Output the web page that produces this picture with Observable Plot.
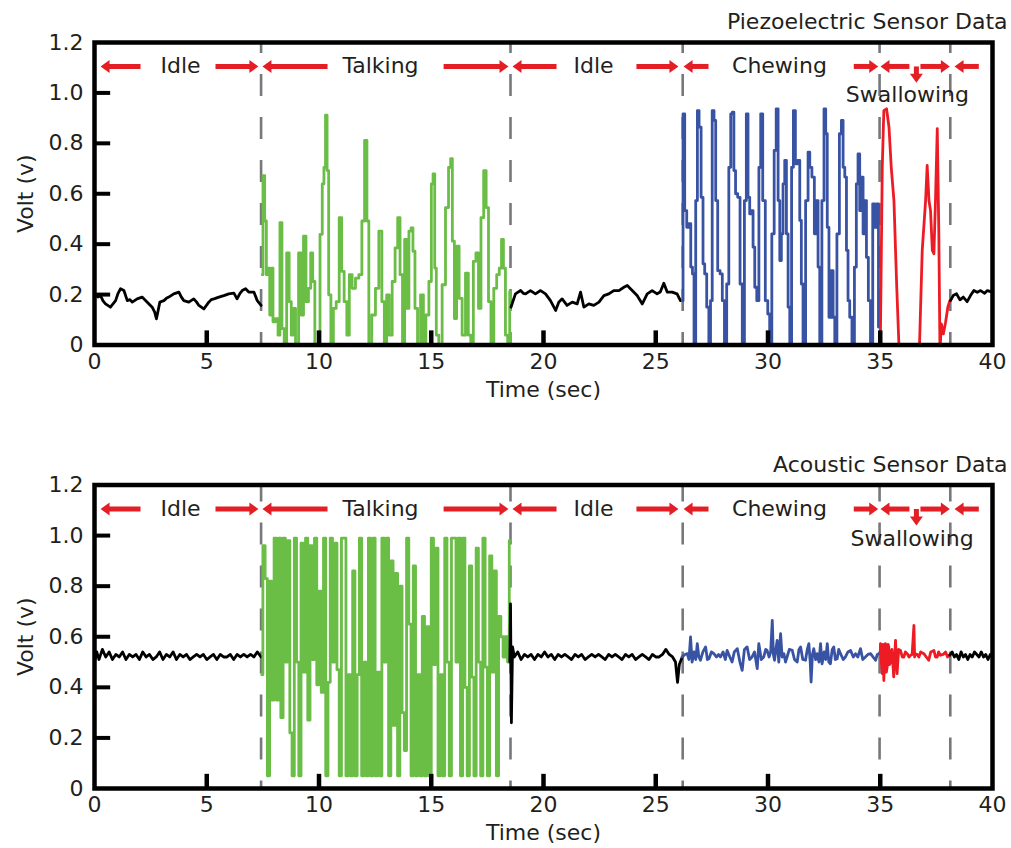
<!DOCTYPE html>
<html>
<head>
<meta charset="utf-8">
<script src="https://cdn.jsdelivr.net/npm/d3@7"></script>
<script src="https://cdn.jsdelivr.net/npm/@observablehq/plot@0.6"></script>
<style>
html, body { margin: 0; padding: 0; background: #ffffff; }
svg { display: block; }
</style>
</head>
<body>
<div id="chart"></div>
<script>
// ---------- axis ticks ----------
const xTicks = [0, 5, 10, 15, 20, 25, 30, 35, 40];
const yTicks = [0, 0.2, 0.4, 0.6, 0.8, 1.0, 1.2];
const xInnerTicks = [5, 10, 15, 20, 25, 30, 35];
const yInnerTicks = [0.2, 0.4, 0.6, 0.8, 1.0];

// ---------- phases ----------
const phaseBounds = [7.42, 18.53, 26.2, 34.97, 38.12];
const phaseLabels = ["Idle", "Talking", "Idle", "Chewing"];
const phaseLabelTimes = [3.83, 12.74, 22.23, 30.51];
const arrowLevel = 1.105;
// [tip, tail] for arrows pointing left
const leftArrows = [[0.27, 2.05], [7.48, 10.38], [18.62, 20.58], [26.24, 27.35], [35.01, 36.3], [38.31, 39.39]];
// [tail, tip] for arrows pointing right
const rightArrows = [[5.39, 7.3], [15.55, 18.44], [24.14, 26.01], [33.82, 34.91], [36.79, 38.1]];
// down arrow: [time, from, to]
const downArrow = [36.61, 1.105, 1.04];

// ---------- Piezoelectric sensor (time s, volt) ----------
const piezoIdle1 = [[0,0.203],[0.15,0.19],[0.27,0.196],[0.38,0.175],[0.49,0.163],[0.71,0.150],[0.94,0.176],[1.05,0.205],[1.16,0.223],[1.31,0.216],[1.46,0.176],[1.58,0.18],[1.68,0.170],[1.90,0.183],[2.12,0.190],[2.35,0.170],[2.57,0.150],[2.68,0.13],[2.76,0.104],[2.91,0.170],[3.09,0.176],[3.2,0.185],[3.31,0.190],[3.53,0.203],[3.76,0.210],[3.87,0.19],[3.98,0.176],[4.20,0.170],[4.42,0.183],[4.55,0.17],[4.65,0.157],[4.87,0.143],[5.09,0.170],[5.2,0.18],[5.32,0.183],[5.54,0.190],[5.76,0.196],[5.98,0.203],[6.21,0.206],[6.35,0.183],[6.48,0.205],[6.58,0.216],[6.73,0.223],[6.87,0.210],[7.10,0.210],[7.25,0.176],[7.42,0.157]];
const piezoTalk = [[7.47,0.279],[7.54,0.672],[7.62,0.492],[7.69,0.279],[7.77,0.305],[7.84,0.119],[7.91,0.305],[7.99,0.092],[8.14,0.105],[8.21,0.039],[8.31,0.485],[8.39,0.065],[8.51,-0.03],[8.61,0.365],[8.73,0.172],[8.80,0.039],[8.88,0.145],[9.03,-0.03],[9.15,0.365],[9.25,0.119],[9.37,0.432],[9.47,0.172],[9.59,0.225],[9.67,0.365],[9.77,0.252],[9.86,-0.03],[9.99,-0.03],[10.10,0.439],[10.19,0.639],[10.25,0.705],[10.33,0.912],[10.39,0.692],[10.47,0.199],[10.59,-0.03],[10.69,0.145],[10.84,0.172],[10.96,0.505],[11.06,0.292],[11.18,0.172],[11.30,0.039],[11.40,0.279],[11.55,0.225],[11.70,0.265],[11.85,0.279],[11.97,0.492],[12.09,0.812],[12.18,0.492],[12.26,-0.03],[12.44,0.119],[12.59,0.225],[12.74,0.452],[12.86,0.172],[12.96,-0.03],[13.07,0.199],[13.19,0.039],[13.33,0.252],[13.45,0.385],[13.56,0.505],[13.66,0.279],[13.78,-0.03],[13.85,0.419],[13.96,0.145],[14.05,0.452],[14.15,0.465],[14.22,0.372],[14.33,0.145],[14.45,-0.03],[14.60,0.199],[14.70,-0.03],[14.82,0.119],[14.97,0.252],[15.04,0.639],[15.12,0.679],[15.19,0.305],[15.26,0.039],[15.41,-0.03],[15.56,0.239],[15.71,0.545],[15.83,0.705],[15.90,0.739],[15.98,0.412],[16.08,0.105],[16.18,0.392],[16.30,0.185],[16.45,0.039],[16.60,0.285],[16.70,0.039],[16.82,-0.03],[16.93,0.332],[17.05,0.365],[17.16,0.145],[17.27,0.505],[17.40,0.692],[17.49,0.545],[17.61,0.172],[17.71,-0.03],[17.86,0.225],[17.97,0.279],[18.09,0.305],[18.17,0.419],[18.26,0.305],[18.35,0.039],[18.46,-0.03],[18.53,0.212]];
const piezoIdle2 = [[18.55,0.150],[18.75,0.203],[18.98,0.216],[19.1,0.205],[19.20,0.203],[19.42,0.216],[19.64,0.203],[19.87,0.216],[20.09,0.203],[20.31,0.176],[20.54,0.137],[20.68,0.170],[20.83,0.183],[21.05,0.157],[21.28,0.170],[21.50,0.163],[21.65,0.210],[21.80,0.150],[22.02,0.163],[22.24,0.157],[22.47,0.170],[22.69,0.196],[22.91,0.203],[23.13,0.216],[23.36,0.216],[23.58,0.229],[23.73,0.236],[23.95,0.216],[24.17,0.196],[24.40,0.163],[24.62,0.203],[24.84,0.216],[25.06,0.203],[25.2,0.21],[25.36,0.245],[25.51,0.210],[25.73,0.210],[25.95,0.203],[26.10,0.176]];
const piezoChew = [[26.18,0.176],[26.25,0.917],[26.33,0.533],[26.43,0.467],[26.52,0.481],[26.60,0.309],[26.67,0.282],[26.74,-0.03],[26.82,0.573],[26.89,0.930],[26.97,0.864],[27.07,0.586],[27.14,0.322],[27.22,0.282],[27.32,0.150],[27.41,-0.05],[27.47,0.176],[27.56,0.930],[27.63,0.891],[27.71,0.573],[27.81,0.295],[27.92,0.282],[28.01,0.176],[28.11,-0.05],[28.21,0.242],[28.30,0.705],[28.38,0.917],[28.45,0.924],[28.51,0.692],[28.60,0.600],[28.70,0.586],[28.81,0.242],[28.90,-0.05],[29.00,0.573],[29.07,0.917],[29.15,0.586],[29.22,0.520],[29.30,0.533],[29.37,0.388],[29.45,0.229],[29.55,0.176],[29.64,0.705],[29.71,0.917],[29.82,0.573],[29.94,0.176],[30.04,0.123],[30.11,-0.03],[30.23,0.441],[30.32,0.772],[30.41,0.937],[30.49,0.573],[30.56,0.335],[30.63,0.441],[30.71,0.639],[30.78,0.732],[30.86,0.441],[30.93,0.150],[31.01,-0.03],[31.09,0.705],[31.17,0.930],[31.27,0.719],[31.38,0.732],[31.45,0.494],[31.52,0.242],[31.60,-0.05],[31.75,0.573],[31.82,0.765],[31.90,0.705],[32.01,0.666],[32.12,0.441],[32.19,0.573],[32.27,0.309],[32.34,-0.05],[32.46,0.573],[32.53,0.937],[32.61,0.838],[32.67,0.467],[32.76,0.110],[32.86,0.295],[32.94,0.110],[33.01,-0.03],[33.13,0.441],[33.23,0.838],[33.31,0.891],[33.38,0.705],[33.46,0.666],[33.53,0.375],[33.60,0.176],[33.68,0.110],[33.80,-0.03],[33.90,0.309],[33.97,0.639],[34.05,0.758],[34.12,0.533],[34.20,0.666],[34.27,0.441],[34.35,0.573],[34.42,0.348],[34.52,0.176],[34.61,-0.05],[34.72,0.560],[34.79,0.467],[34.87,0.560],[34.97,0.071]];
const piezoSwallow = [[35.01,0.057],[35.09,0.705],[35.16,0.930],[35.28,0.937],[35.39,0.864],[35.49,0.705],[35.61,0.573],[35.73,0.242],[35.87,-0.09],[36.72,-0.09],[36.87,0.375],[37.02,0.573],[37.09,0.712],[37.17,0.573],[37.24,0.533],[37.32,0.375],[37.39,0.362],[37.46,0.573],[37.54,0.858],[37.61,0.441],[37.66,-0.03],[37.72,0.084],[37.81,0.044],[37.91,0.090],[38.01,0.150],[38.10,0.176]];
const piezoIdle3 = [[38.13,0.176],[38.25,0.196],[38.40,0.203],[38.55,0.179],[38.70,0.190],[38.87,0.172],[39.02,0.196],[39.17,0.216],[39.32,0.209],[39.47,0.216],[39.65,0.205],[39.77,0.216],[39.88,0.213],[40,0.21]];

// ---------- Acoustic sensor (time s, volt) ----------
const acousticIdle1 = [[0,0.50],[0.1,0.54],[0.2,0.51],[0.35,0.55],[0.5,0.52],[0.65,0.54],[0.8,0.51],[0.95,0.53],[1.1,0.52],[1.25,0.54],[1.4,0.51],[1.55,0.53],[1.7,0.52],[1.85,0.53],[2.0,0.51],[2.15,0.54],[2.3,0.52],[2.45,0.53],[2.6,0.51],[2.75,0.52],[2.9,0.54],[3.05,0.51],[3.2,0.53],[3.35,0.52],[3.5,0.54],[3.65,0.51],[3.8,0.53],[3.95,0.52],[4.1,0.53],[4.25,0.51],[4.4,0.52],[4.55,0.53],[4.7,0.52],[4.85,0.53],[5.0,0.51],[5.15,0.52],[5.3,0.53],[5.45,0.51],[5.6,0.53],[5.75,0.52],[5.9,0.52],[6.05,0.53],[6.2,0.51],[6.35,0.53],[6.5,0.52],[6.65,0.53],[6.8,0.52],[6.95,0.53],[7.1,0.52],[7.25,0.54],[7.42,0.52]];
const acousticTalkStart = 7.45;
const acousticTalkStep = 0.1;
const acousticTalkValues = [
  0.45,0.96,0.83,0.05,0.82,0.35,0.99,0.35,0.99,0.28,
  0.99,0.50,0.98,0.22,0.05,0.99,0.50,0.05,0.97,0.46,
  0.99,0.27,0.96,0.51,0.99,0.41,0.78,0.38,0.99,0.05,
  0.42,0.99,0.50,0.97,0.47,0.05,0.99,0.99,0.05,0.45,
  0.05,0.86,0.05,0.45,0.99,0.05,0.50,0.05,0.99,0.05,
  0.99,0.05,0.46,0.05,0.99,0.50,0.99,0.05,0.90,0.25,
  0.85,0.05,0.80,0.30,0.15,0.99,0.65,0.05,0.88,0.05,
  0.45,0.05,0.68,0.05,0.64,0.05,0.99,0.49,0.95,0.05,
  0.45,0.05,0.99,0.50,0.05,0.99,0.99,0.50,0.99,0.05,
  0.99,0.40,0.05,0.88,0.44,0.05,0.95,0.50,0.05,0.99,
  0.48,0.05,0.92,0.46,0.86,0.05,0.68,0.60,0.52,0.60,
  0.50
];
const acousticTalkEnd = [[18.5,0.98]];
const acousticIdle2 = [[18.5,0.50],[18.53,0.73],[18.57,0.26],[18.62,0.56],[18.7,0.52],[18.85,0.54],[19.0,0.51],[19.15,0.53],[19.3,0.52],[19.45,0.53],[19.6,0.51],[19.75,0.53],[19.9,0.52],[20.05,0.54],[20.2,0.52],[20.35,0.53],[20.5,0.51],[20.65,0.53],[20.8,0.52],[20.95,0.53],[21.1,0.52],[21.25,0.51],[21.4,0.53],[21.55,0.52],[21.7,0.53],[21.85,0.51],[22.0,0.52],[22.15,0.53],[22.3,0.52],[22.45,0.53],[22.6,0.52],[22.75,0.51],[22.9,0.53],[23.05,0.52],[23.2,0.53],[23.35,0.52],[23.5,0.51],[23.65,0.53],[23.8,0.52],[23.95,0.53],[24.1,0.51],[24.25,0.52],[24.4,0.53],[24.55,0.52],[24.7,0.51],[24.85,0.53],[25.0,0.52],[25.15,0.52],[25.3,0.53],[25.45,0.55],[25.6,0.53],[25.75,0.52],[25.88,0.50],[25.97,0.42],[26.05,0.49],[26.18,0.52]];
const acousticChew = [[26.18,0.52],[26.3,0.53],[26.4,0.533],[26.48,0.51],[26.55,0.599],[26.62,0.50],[26.7,0.54],[26.78,0.51],[26.85,0.573],[26.92,0.52],[26.99,0.507],[27.1,0.54],[27.22,0.560],[27.3,0.51],[27.37,0.513],[27.48,0.54],[27.59,0.533],[27.7,0.52],[27.8,0.53],[27.88,0.520],[28.0,0.54],[28.1,0.51],[28.18,0.546],[28.3,0.52],[28.40,0.500],[28.5,0.54],[28.63,0.553],[28.75,0.50],[28.85,0.467],[28.95,0.55],[29.07,0.560],[29.18,0.51],[29.29,0.520],[29.4,0.54],[29.52,0.474],[29.59,0.573],[29.7,0.51],[29.81,0.520],[29.9,0.55],[29.96,0.546],[30.05,0.52],[30.12,0.54],[30.19,0.665],[30.24,0.53],[30.29,0.507],[30.35,0.55],[30.41,0.586],[30.48,0.50],[30.56,0.612],[30.63,0.52],[30.71,0.533],[30.78,0.50],[30.85,0.520],[30.95,0.55],[31.08,0.546],[31.18,0.51],[31.30,0.500],[31.38,0.55],[31.45,0.560],[31.55,0.51],[31.67,0.507],[31.75,0.55],[31.82,0.573],[31.88,0.50],[31.92,0.421],[31.98,0.53],[32.04,0.553],[32.12,0.51],[32.19,0.533],[32.27,0.50],[32.34,0.573],[32.41,0.493],[32.5,0.54],[32.57,0.51],[32.64,0.573],[32.71,0.50],[32.78,0.493],[32.86,0.55],[32.93,0.560],[33.0,0.51],[33.08,0.513],[33.15,0.55],[33.23,0.533],[33.35,0.51],[33.45,0.520],[33.56,0.54],[33.68,0.546],[33.8,0.52],[33.90,0.533],[34.0,0.52],[34.12,0.553],[34.22,0.51],[34.34,0.520],[34.45,0.53],[34.57,0.533],[34.68,0.52],[34.79,0.507],[34.87,0.53],[34.94,0.533]];
const acousticSwallow = [[35.0,0.533],[35.01,0.573],[35.05,0.50],[35.09,0.454],[35.12,0.57],[35.16,0.427],[35.2,0.56],[35.23,0.573],[35.27,0.46],[35.31,0.480],[35.35,0.57],[35.38,0.560],[35.42,0.49],[35.46,0.507],[35.52,0.55],[35.60,0.441],[35.65,0.53],[35.68,0.586],[35.72,0.50],[35.75,0.454],[35.82,0.55],[35.90,0.546],[35.98,0.52],[36.05,0.520],[36.12,0.54],[36.20,0.533],[36.28,0.52],[36.35,0.527],[36.42,0.53],[36.50,0.645],[36.53,0.52],[36.57,0.533],[36.65,0.53],[36.72,0.520],[36.8,0.54],[36.94,0.533],[37.05,0.52],[37.16,0.507],[37.25,0.54],[37.39,0.546],[37.46,0.52],[37.54,0.520],[37.6,0.54],[37.68,0.527],[37.8,0.53],[37.91,0.540],[38.0,0.52],[38.06,0.527]];
const acousticIdle3 = [[38.1,0.527],[38.2,0.54],[38.3,0.52],[38.4,0.53],[38.5,0.51],[38.6,0.54],[38.7,0.52],[38.8,0.53],[38.9,0.51],[39.0,0.53],[39.1,0.52],[39.2,0.54],[39.3,0.53],[39.4,0.52],[39.5,0.54],[39.6,0.52],[39.7,0.53],[39.8,0.51],[39.9,0.53],[40,0.52]];

// ---------- styles ----------
const BLACK = "#000000", GREEN = "#6abd45", BLUE = "#3953a4", RED = "#ed1c24";
const ARROW = "#e31e24", DASH = "#77787b", INK = "#231f20";

const acousticTalk = acousticTalkValues
  .map((v, i) => [acousticTalkStart + i * acousticTalkStep, v])
  .concat(acousticTalkEnd);

const piezoSegments = [
  {data: piezoIdle1, color: BLACK, curve: "linear"}, {data: piezoTalk, color: GREEN, curve: "step"},
  {data: piezoIdle2, color: BLACK, curve: "linear"}, {data: piezoChew, color: BLUE, curve: "step"},
  {data: piezoSwallow, color: RED, curve: "linear"}, {data: piezoIdle3, color: BLACK, curve: "linear"}
];
const acousticSegments = [
  {data: acousticIdle1, color: BLACK, curve: "linear"}, {data: acousticTalk, color: GREEN, curve: "step"},
  {data: acousticIdle2, color: BLACK, curve: "linear"}, {data: acousticChew, color: BLUE, curve: "linear"},
  {data: acousticSwallow, color: RED, curve: "linear"}, {data: acousticIdle3, color: BLACK, curve: "linear"}
];

// filled arrowhead pointing right with tip at the anchor
const arrowHead = {
  draw(context) {
    context.moveTo(0, 0);
    context.lineTo(-9, -6.5);
    context.lineTo(-9, 6.5);
    context.closePath();
  }
};

function panel({title, segments, swallowAt, height, marginTop, marginBottom, titleDy, dashOffset}) {
  return Plot.plot({
    width: 1011,
    height,
    marginLeft: 94,
    marginRight: 19,
    marginTop,
    marginBottom,
    x: {domain: [0, 40]},
    y: {domain: [0, 1.2]},
    style: {fontFamily: "'DejaVu Sans', sans-serif", fontSize: "22px", color: INK, background: "#ffffff", overflow: "visible"},
    marks: [
      Plot.ruleX(phaseBounds, {stroke: DASH, strokeWidth: 2.6, strokeDasharray: "22,21", strokeDashoffset: dashOffset}),
      ...segments.map(s => Plot.line(s.data, {x: d => d[0], y: d => d[1], stroke: s.color, strokeWidth: 2.8, curve: s.curve, clip: true})),
      Plot.ruleX(xInnerTicks, {y1: 0, y2: 0.056, stroke: "#000", strokeWidth: 4.5}),
      Plot.ruleY(yInnerTicks, {x1: 0, x2: 0.72, stroke: "#000", strokeWidth: 4}),
      Plot.frame({stroke: "#000", strokeWidth: 4.5}),
      Plot.axisX({ticks: xTicks, tickSize: 0, tickPadding: 8, tickFormat: d => String(d), label: null, fill: INK}),
      Plot.axisY({ticks: yTicks, tickSize: 0, tickPadding: 11, tickFormat: d => d === 0 ? "0" : d.toFixed(1), label: null, fill: INK}),
      Plot.text(["Time (sec)"], {frameAnchor: "bottom", dy: 36, lineAnchor: "top", fill: INK}),
      Plot.text(["Volt (v)"], {frameAnchor: "left", dx: -69, rotate: -90, lineAnchor: "middle", textAnchor: "middle", fill: INK}),
      Plot.text([title], {frameAnchor: "top-right", dx: 15, dy: titleDy, textAnchor: "end", lineAnchor: "middle", fill: INK}),
      // arrow shafts
      Plot.arrow(leftArrows, {x1: d => d[1], x2: d => d[0], y1: () => arrowLevel, y2: () => arrowLevel, headLength: 0, insetEnd: 6, stroke: ARROW, strokeWidth: 5, strokeLinecap: "butt"}),
      Plot.arrow(rightArrows, {x1: d => d[0], x2: d => d[1], y1: () => arrowLevel, y2: () => arrowLevel, headLength: 0, insetEnd: 6, stroke: ARROW, strokeWidth: 5, strokeLinecap: "butt"}),
      Plot.arrow([downArrow], {x1: d => d[0], x2: d => d[0], y1: d => d[1], y2: d => d[2], headLength: 0, insetEnd: 6, stroke: ARROW, strokeWidth: 5, strokeLinecap: "butt"}),
      // arrow heads
      Plot.dot(leftArrows, {x: d => d[0], y: () => arrowLevel, symbol: arrowHead, rotate: 180, fill: ARROW, stroke: "none"}),
      Plot.dot(rightArrows, {x: d => d[1], y: () => arrowLevel, symbol: arrowHead, rotate: 0, fill: ARROW, stroke: "none"}),
      Plot.dot([downArrow], {x: d => d[0], y: d => d[2], symbol: arrowHead, rotate: 90, fill: ARROW, stroke: "none"}),
      // phase labels
      Plot.text(phaseLabels, {x: phaseLabelTimes, y: () => arrowLevel, text: d => d, lineAnchor: "middle", fill: INK}),
      Plot.text(["Swallowing"], {x: [swallowAt[0]], y: [swallowAt[1]], text: d => d, lineAnchor: "middle", fill: INK})
    ]
  });
}

const chart = document.getElementById("chart");
chart.append(panel({
  title: "Piezoelectric Sensor Data", segments: piezoSegments, swallowAt: [36.21, 0.99],
  height: 424, marginTop: 42, marginBottom: 79.5, titleDy: -21, dashOffset: 11
}));
chart.append(panel({
  title: "Acoustic Sensor Data", segments: acousticSegments, swallowAt: [36.42, 0.985],
  height: 424, marginTop: 60.5, marginBottom: 60, titleDy: -20, dashOffset: 5
}));
</script>
</body>
</html>
